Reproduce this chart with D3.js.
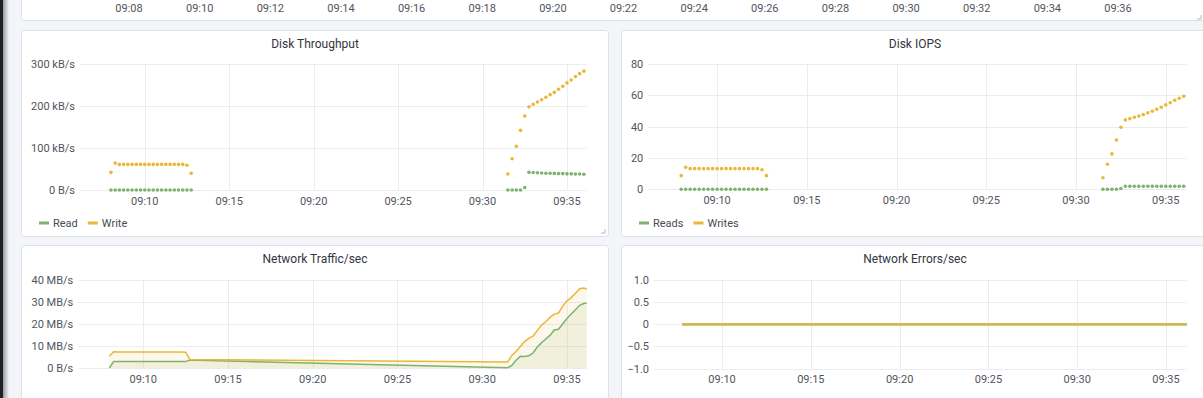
<!DOCTYPE html>
<html>
<head>
<meta charset="utf-8">
<script src="https://cdn.jsdelivr.net/npm/d3@7"></script>
<style>
body { margin: 0; background: #f4f5f8; font-family: Roboto, "Helvetica Neue", Arial, sans-serif; overflow: hidden; }
svg { display: block; }
</style>
</head>
<body>
<svg id="dash" width="1203" height="398"></svg>
<script>
var W = 1203, H = 398;

// time window shown by every panel, samples every 15s
var viewStart = "09:06:10", viewEnd = "09:36:10";
var stepSec = 15;
var segStartA = "09:08:00", segStartB = "09:31:30";

// Disk Throughput (kB/s)
var tpReadA  = [0,0,0,0,0,0,0,0,0,0,0,0,0,0,0,0,0,0,0,0];
var tpWriteA = [42,64,61,61,61,61,61,61,61,61,61,61,61,61,61,61,61,61,59,40];
var tpReadB  = [0,0,0,0,6,42,41.5,41,40.5,40,40,39.5,39,39,38.5,38.5,38,38,37.5];
var tpWriteB = [38,74.5,104,142,176,198,204,209.5,215,221,227,232.5,240,247,255,262,270,277,283];

// Disk IOPS
var iopsReadA  = [0,0,0,0,0,0,0,0,0,0,0,0,0,0,0,0,0,0,0,0];
var iopsWriteA = [8.7,14,13.2,13.2,13.2,13.2,13.2,13.2,13.2,13.2,13.2,13.2,13.2,13.2,13.2,13.2,13.2,13.2,12.5,8.7];
var iopsReadB  = [0,0,0,0,0.5,1.9,1.9,1.9,1.9,1.9,1.9,1.9,1.9,1.9,1.9,1.9,1.9,1.9,1.9];
var iopsWriteB = [7.4,16,22.6,31.5,39.6,44.3,45.1,46,46.8,47.7,48.8,49.8,51.1,52.4,53.9,55.3,56.9,58.1,59.4];

// Network Traffic (MB/s)
var netRxA = [0,2.9,2.9,2.9,2.9,2.9,2.9,2.9,2.9,2.9,2.9,2.9,2.9,2.9,2.9,2.9,2.9,2.9,2.9,3.6];
var netTxA = [5.3,7.4,7.3,7.3,7.3,7.3,7.3,7.3,7.3,7.3,7.3,7.3,7.3,7.3,7.3,7.3,7.3,7.3,7.2,3.9];
var netRxB = [0.1,1.2,3.5,5.3,5.2,5.6,6.8,9.5,11.5,13.2,14.8,17.3,17.6,20,22.5,24.5,26.5,28.5,29.3,29.6];
var netTxB = [2.7,5.7,7.5,9.8,12,13.5,14.5,17,19.5,21,23,24.5,25,28,30.5,32,34,36,36.3,35.7];

// Network Errors/sec
var errTimes = ["09:07:45", "09:36:15"];
var errIn  = [0, 0];
var errOut = [0, 0];

// axis tick labels
var topTicks = ["09:08","09:10","09:12","09:14","09:16","09:18","09:20","09:22","09:24","09:26","09:28","09:30","09:32","09:34","09:36"];
var tpTicks = [0, 100, 200, 300];
var iopsTicks = [0, 20, 40, 60, 80];
var netTicks = [0, 10, 20, 30, 40];
var errTicks = [-1, -0.5, 0, 0.5, 1];

var green = "#7eb26d", yellow = "#eab839";
var parseT = d3.timeParse("%H:%M:%S");
var t0 = parseT(viewStart), t1 = parseT(viewEnd);

function series(start, vals) {
    var s = parseT(start);
    return vals.map((v, i) => ({ t: d3.timeSecond.offset(s, i * stepSec), v: v }));
}

var svg = d3.select("#dash");

// dark side menu edge with its shadow
var defs = svg.append("defs");
var sh = defs.append("linearGradient").attr("id", "shade");
sh.append("stop").attr("offset", "0").attr("stop-color", "#9a9ca3");
sh.append("stop").attr("offset", "1").attr("stop-color", "#f4f5f8");
svg.append("rect").attr("x", 3).attr("y", 0).attr("width", 6).attr("height", H).attr("fill", "url(#shade)");
svg.append("rect").attr("x", 0).attr("y", 0).attr("width", 3).attr("height", H).attr("fill", "#1f2027");

function box(x, y, w, h) {
    svg.append("rect")
        .attr("x", x + 0.5).attr("y", y + 0.5)
        .attr("width", w).attr("height", h)
        .attr("rx", 3)
        .attr("fill", "#fff")
        .attr("stroke", "#dce2ea");
}

function handle(x, y) {
    svg.append("path")
        .attr("d", `M${x},${y - 4}V${y}H${x - 4}`)
        .attr("fill", "none")
        .attr("stroke", "#b5b8bf")
        .attr("stroke-width", 1);
}

// top panel, only its time axis is still visible
box(21, -10, 1190, 30);
handle(1201, 19);
var xTop = d3.scaleTime().domain([t0, t1]).range([64.3, 1123.9]);
var parseHM = d3.timeParse("%H:%M");
svg.append("g").selectAll("text")
    .data(topTicks)
    .join("text")
    .attr("x", d => xTop(parseHM(d)))
    .attr("y", 11.5)
    .attr("text-anchor", "middle")
    .attr("font-size", 11)
    .attr("fill", "#52545c")
    .text(d => d);

var clipId = 0;

function panel(p) {
    box(p.bx, p.by, p.bw, p.bh);

    svg.append("text")
        .attr("x", p.bx + 294)
        .attr("y", p.by + 17.5)
        .attr("text-anchor", "middle")
        .attr("font-size", 12)
        .attr("font-weight", 400)
        .attr("fill", "#33363d")
        .text(p.title);

    var x = d3.scaleTime().domain([t0, t1]).range([p.x0, p.x1]);
    var y = d3.scaleLinear().domain(p.yDomain).range([p.y0, p.y1]);

    var g = svg.append("g");

    g.append("g").selectAll("line")
        .data(p.yTicks)
        .join("line")
        .attr("x1", p.x0).attr("x2", p.x1)
        .attr("y1", d => Math.round(y(d)) + 0.5)
        .attr("y2", d => Math.round(y(d)) + 0.5)
        .attr("stroke", "#ececec");

    var xt = x.ticks(d3.timeMinute.every(5));
    g.append("g").selectAll("line")
        .data(xt)
        .join("line")
        .attr("x1", d => Math.round(x(d)) + 0.5)
        .attr("x2", d => Math.round(x(d)) + 0.5)
        .attr("y1", p.y1).attr("y2", p.y0)
        .attr("stroke", "#ececec");

    g.append("g").selectAll("text")
        .data(p.yTicks)
        .join("text")
        .attr("x", p.x0 - 5)
        .attr("y", d => y(d) + 4)
        .attr("text-anchor", "end")
        .attr("font-size", 11)
        .attr("fill", "#52545c")
        .text(p.yFmt);

    g.append("g").selectAll("text")
        .data(xt)
        .join("text")
        .attr("x", d => x(d))
        .attr("y", p.y0 + 14.5)
        .attr("text-anchor", "middle")
        .attr("font-size", 11)
        .attr("fill", "#52545c")
        .text(d3.timeFormat("%H:%M"));

    clipId++;
    defs.append("clipPath").attr("id", "clip" + clipId)
        .append("rect")
        .attr("x", p.x0).attr("y", p.y1 - 3)
        .attr("width", p.x1 - p.x0).attr("height", p.y0 - p.y1 + 6);

    var plot = g.append("g").attr("clip-path", `url(#clip${clipId})`);

    p.series.forEach(s => {
        if (s.fill) {
            plot.append("path")
                .datum(s.data)
                .attr("d", d3.area().x(d => x(d.t)).y0(y(0)).y1(d => y(d.v)))
                .attr("fill", s.color)
                .attr("fill-opacity", 0.1);
        }
    });
    p.series.forEach(s => {
        if (s.points) {
            plot.append("g").selectAll("circle")
                .data(s.data)
                .join("circle")
                .attr("cx", d => x(d.t))
                .attr("cy", d => y(d.v))
                .attr("r", 1.8)
                .attr("fill", s.color);
        } else {
            plot.append("path")
                .datum(s.data)
                .attr("d", d3.line().x(d => x(d.t)).y(d => y(d.v)))
                .attr("fill", "none")
                .attr("stroke", s.color)
                .attr("stroke-width", s.width || 1.5)
                .attr("stroke-opacity", s.opacity || 1);
        }
    });

    if (p.legend) {
        var lx = p.bx + 18;
        p.legend.forEach((l, i) => {
            svg.append("rect")
                .attr("x", lx).attr("y", p.ly - 1.5)
                .attr("width", 10).attr("height", 3)
                .attr("fill", l.color);
            var tx = svg.append("text")
                .attr("x", lx + 14)
                .attr("y", p.ly + 4)
                .attr("font-size", 11)
                .attr("fill", "#464c54")
                .text(l.name);
            lx += 14 + tx.node().getComputedTextLength() + 10;
        });
    }
}

var kB = d => d === 0 ? "0 B/s" : d + " kB/s";
var MB = d => d === 0 ? "0 B/s" : d + " MB/s";

panel({
    title: "Disk Throughput",
    bx: 21, by: 30, bw: 587, bh: 206,
    x0: 80, x1: 586.7, y0: 190, y1: 64,
    yDomain: [0, 300], yTicks: tpTicks, yFmt: kB,
    ly: 223,
    legend: [{ name: "Read", color: green }, { name: "Write", color: yellow }],
    series: [
        { color: green, points: true, data: series(segStartA, tpReadA).concat(series(segStartB, tpReadB)) },
        { color: yellow, points: true, data: series(segStartA, tpWriteA).concat(series(segStartB, tpWriteB)) }
    ]
});
handle(605, 233);

panel({
    title: "Disk IOPS",
    bx: 621, by: 30, bw: 587, bh: 206,
    x0: 648.3, x1: 1186.7, y0: 189.3, y1: 64,
    yDomain: [0, 80], yTicks: iopsTicks, yFmt: d => d,
    ly: 223,
    legend: [{ name: "Reads", color: green }, { name: "Writes", color: yellow }],
    series: [
        { color: green, points: true, data: series(segStartA, iopsReadA).concat(series(segStartB, iopsReadB)) },
        { color: yellow, points: true, data: series(segStartA, iopsWriteA).concat(series(segStartB, iopsWriteB)) }
    ]
});

panel({
    title: "Network Traffic/sec",
    bx: 21, by: 245, bw: 587, bh: 200,
    x0: 78.3, x1: 586.7, y0: 368, y1: 280,
    yDomain: [0, 40], yTicks: netTicks, yFmt: MB,
    series: [
        { color: green, fill: true, data: series(segStartA, netRxA).concat(series(segStartB, netRxB)) },
        { color: yellow, fill: true, data: series(segStartA, netTxA).concat(series(segStartB, netTxB)) }
    ]
});

panel({
    title: "Network Errors/sec",
    bx: 621, by: 245, bw: 587, bh: 200,
    x0: 654, x1: 1186.7, y0: 368.5, y1: 280,
    yDomain: [-1, 1], yTicks: errTicks, yFmt: d => d === 0 ? "0" : d3.format(".1f")(d),
    series: [
        { color: green, width: 2.5, data: errTimes.map((t, i) => ({ t: parseT(t), v: errIn[i] })) },
        { color: yellow, width: 2.5, opacity: 0.8, data: errTimes.map((t, i) => ({ t: parseT(t), v: errOut[i] })) }
    ]
});
</script>
</body>
</html>
